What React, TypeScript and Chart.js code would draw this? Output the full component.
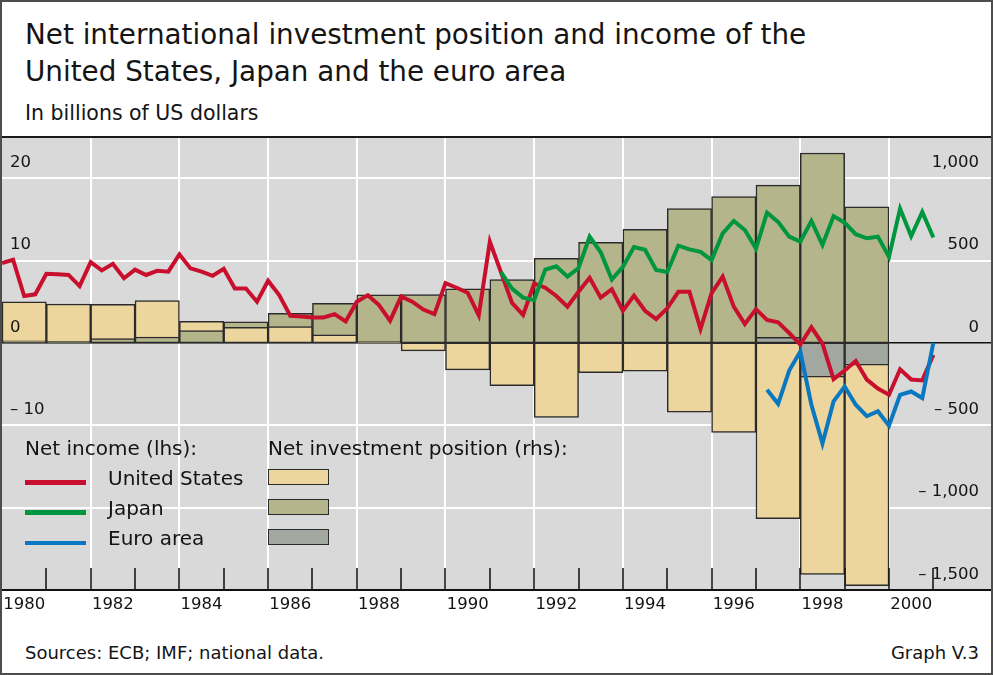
import React, { useEffect, useRef } from "react";
import { Chart, registerables } from "chart.js";

Chart.register(...registerables);

const FONT = '"DejaVu Sans", "Liberation Sans", sans-serif';

// ---- Net investment position (rhs, USD bn), annual, 1980–1999 ----
const positionYears = [1980, 1981, 1982, 1983, 1984, 1985, 1986, 1987, 1988, 1989, 1990, 1991, 1992, 1993, 1994, 1995, 1996, 1997, 1998, 1999];
const usPosition = [250, 236, 234, 257, 131, 95, 99, 49, 10, -48, -164, -260, -453, -180, -172, -420, -543, -1067, -1406, -1473];
const japanPosition = [12, 10, 26, 36, 75, 128, 180, 240, 292, 293, 329, 384, 513, 610, 689, 815, 889, 958, 1153, 826];
const euroPosition = [null, null, null, null, null, null, null, null, null, null, null, null, null, null, null, null, null, 34, -208, -135];

// ---- Net income (lhs, USD bn), quarterly ----
const usIncomeStart = 1980.0;
const usIncome = [
  9.7, 10.1, 5.7, 5.9, 8.4, 8.35, 8.25, 6.9, 9.8, 8.8, 9.6, 7.85, 8.9, 8.25, 8.75, 8.65,
  10.75, 9.05, 8.65, 8.15, 9.0, 6.6, 6.6, 5.0, 7.55, 5.8, 3.3, 3.2, 3.1, 3.1, 3.5, 2.6,
  5.0, 5.8, 4.6, 2.7, 5.65, 5.0, 4.05, 3.5, 7.25, 6.7, 6.1, 3.35, 12.3, 8.6, 4.85, 3.4,
  7.2, 6.7, 5.7, 4.4, 6.2, 7.9, 5.5, 6.5, 3.9, 5.75, 3.9, 2.9, 4.2, 6.2, 6.2, 1.7,
  6.05, 8.05, 4.4, 2.3, 4.1, 2.8, 2.5, 1.2, -0.2, 1.9, -0.1, -4.4, -3.35, -2.2, -4.45, -5.55,
  -6.3, -3.2, -4.45, -4.55, -1.45,
];
const japanIncomeStart = 1991.25;
const japanIncome = [
  8.6, 6.6, 5.5, 5.2, 8.9, 9.3, 8.05, 9.1, 12.9, 11.0, 7.7, 9.25, 11.65, 11.3, 8.85, 8.6,
  11.8, 11.35, 11.05, 10.05, 13.3, 14.8, 13.7, 11.45, 15.8, 14.7, 12.9, 12.3, 14.8, 11.9,
  15.4, 14.6, 13.2, 12.7, 12.9, 10.45, 16.3, 12.95, 15.9, 12.8,
];
const euroIncomeStart = 1997.25;
const euroIncome = [-5.7, -7.4, -3.35, -1.05, -7.5, -12.2, -7.1, -5.3, -7.5, -8.9, -8.3, -10.05, -6.3, -5.9, -6.7, 0.0];

// ---- Axes ----
const xLabelYears = [1980, 1982, 1984, 1986, 1988, 1990, 1992, 1994, 1996, 1998, 2000];
const xLabels = ["1980", "1982", "1984", "1986", "1988", "1990", "1992", "1994", "1996", "1998", "2000"];
const gridYears = [1982, 1984, 1986, 1988, 1990, 1992, 1994, 1996, 1998, 2000];
const yearTickMarks = [1981, 1982, 1983, 1984, 1985, 1986, 1987, 1988, 1989, 1990, 1991, 1992, 1993, 1994, 1995, 1996, 1997, 1998, 1999, 2000, 2001];
const leftGridValues = [-30, -20, -10, 0, 10, 20];
const leftTickValues = [20, 10, 0, -10];
const leftTickLabels = ["20", "10", "0", "\u2013 10"];
const rightTickValues = [1000, 500, 0, -500, -1000, -1500];
const rightTickLabels = ["1,000", "500", "0", "\u2013 500", "\u2013 1,000", "\u2013 1,500"];

const COLORS = {
  bg: "#d9d9d9",
  us: "#c8102e",
  japan: "#00963f",
  euro: "#0a78c0",
  usBar: "#edd59e",
  japanBar: "#b4b58a",
  euroBar: "#a2a89f",
  barBorder: "#2b2b2b",
};

const quarterly = (start: number, values: number[]) =>
  values.map((v, i) => ({ x: start + i * 0.25, y: v }));

function buildBarLayers() {
  const series = [
    { values: usPosition, color: COLORS.usBar },
    { values: japanPosition, color: COLORS.japanBar },
    { values: euroPosition, color: COLORS.euroBar },
  ];
  const layers = [0, 1, 2].map(() => ({ data: [] as any[], colors: [] as string[] }));
  positionYears.forEach((yr, i) => {
    const entries = series
      .filter((s) => s.values[i] !== null && s.values[i] !== undefined)
      .map((s) => ({ v: s.values[i] as number, c: s.color }))
      .sort((a, b) => Math.abs(b.v) - Math.abs(a.v));
    for (let k = 0; k < 3; k++) {
      const e = entries[k];
      layers[k].data.push({ x: yr + 0.5, y: e ? e.v : null });
      layers[k].colors.push(e ? e.c : "rgba(0,0,0,0)");
    }
  });
  return layers;
}

const overlayPlugin = {
  id: "overlayMarks",
  beforeDraw(chart: any) {
    const { ctx, chartArea } = chart;
    ctx.save();
    ctx.fillStyle = COLORS.bg;
    ctx.fillRect(chartArea.left, chartArea.top, chartArea.right - chartArea.left, chartArea.bottom - chartArea.top);
    ctx.restore();
  },
  afterDatasetsDraw(chart: any) {
    const { ctx, chartArea, scales } = chart;
    ctx.save();
    ctx.strokeStyle = "#1a1a1a";
    ctx.lineWidth = 1.6;
    yearTickMarks.forEach((yr) => {
      const px = Math.round(scales.x.getPixelForValue(yr));
      ctx.beginPath();
      ctx.moveTo(px, chartArea.bottom);
      ctx.lineTo(px, chartArea.bottom - 22);
      ctx.stroke();
    });
    ctx.restore();
  },
  afterDraw(chart: any) {
    const { ctx, chartArea, scales } = chart;
    ctx.save();
    ctx.fillStyle = "#141414";
    ctx.font = `16.5px ${FONT}`;
    ctx.textBaseline = "middle";
    ctx.textAlign = "left";
    leftTickValues.forEach((v, i) => {
      ctx.fillText(leftTickLabels[i], chartArea.left + 8, scales.yL.getPixelForValue(v) - 15.5);
    });
    ctx.textAlign = "right";
    rightTickValues.forEach((v, i) => {
      ctx.fillText(rightTickLabels[i], chartArea.right - 12, scales.yR.getPixelForValue(v) - 15.5);
    });
    ctx.textAlign = "center";
    xLabelYears.forEach((yr, i) => {
      ctx.fillText(xLabels[i], scales.x.getPixelForValue(yr + 0.5), chartArea.bottom + 14.5);
    });
    ctx.restore();
  },
};

function ChartCanvas() {
  const ref = useRef<HTMLCanvasElement | null>(null);
  useEffect(() => {
    if (!ref.current) return;
    const layers = buildBarLayers();
    const barDatasets = layers.map((layer, k) => ({
      type: "bar" as const,
      label: `position layer ${k}`,
      data: layer.data,
      backgroundColor: layer.colors,
      borderColor: COLORS.barBorder,
      borderWidth: 1.5,
      borderSkipped: false,
      grouped: false,
      barPercentage: 1,
      categoryPercentage: 1,
      xAxisID: "x",
      yAxisID: "yR",
      order: 5 - k,
    }));
    const lineBase = {
      type: "line" as const,
      borderWidth: 4,
      pointRadius: 0,
      tension: 0,
      fill: false,
      xAxisID: "x",
      yAxisID: "yL",
      borderJoinStyle: "miter" as const,
    };
    const chart = new Chart(ref.current, {
      type: "bar",
      data: {
        datasets: [
          ...barDatasets,
          { ...lineBase, label: "United States", data: quarterly(usIncomeStart, usIncome), borderColor: COLORS.us, order: 2 },
          { ...lineBase, label: "Japan", data: quarterly(japanIncomeStart, japanIncome), borderColor: COLORS.japan, order: 1 },
          { ...lineBase, label: "Euro area", data: quarterly(euroIncomeStart, euroIncome), borderColor: COLORS.euro, order: 0 },
        ] as any,
      },
      options: {
        animation: false,
        responsive: true,
        maintainAspectRatio: false,
        devicePixelRatio: 1,
        layout: { padding: { left: 2, right: 2, top: 0, bottom: 40 } },
        plugins: { legend: { display: false }, tooltip: { enabled: false } },
        events: [],
        scales: {
          x: {
            type: "linear",
            position: "bottom",
            offset: false,
            min: 1980,
            max: 2002.3,
            weight: 1,
            afterBuildTicks: (scale: any) => {
              scale.ticks = xLabelYears.map((y) => ({ value: y + 0.5 }));
            },
            ticks: { display: false },
            grid: { display: false, drawTicks: false, offset: false },
            border: { display: true, color: "#111", width: 2 },
          },
          xg: {
            type: "linear",
            position: "bottom",
            offset: false,
            min: 1980,
            max: 2002.3,
            weight: 0,
            afterBuildTicks: (scale: any) => {
              scale.ticks = gridYears.map((y) => ({ value: y }));
            },
            ticks: { display: false },
            grid: { color: "#ffffff", lineWidth: 2, drawTicks: false, offset: false },
            border: { display: false },
          },
          yL: {
            type: "linear",
            position: "left",
            min: -30,
            max: 25,
            afterBuildTicks: (scale: any) => {
              scale.ticks = leftGridValues.map((v) => ({ value: v }));
            },
            ticks: { display: false },
            grid: {
              drawTicks: false,
              color: (c: any) => (c.tick && c.tick.value === 0 ? "#111" : c.tick && c.tick.value === -30 ? "rgba(0,0,0,0)" : "#ffffff"),
              lineWidth: (c: any) => (c.tick && c.tick.value === 0 ? 1.6 : 2),
            },
            border: { display: false },
          },
          yR: {
            type: "linear",
            position: "right",
            min: -1500,
            max: 1250,
            display: false,
          },
        },
      } as any,
      plugins: [overlayPlugin],
    });
    return () => chart.destroy();
  }, []);
  return <canvas ref={ref} />;
}

const legendText: React.CSSProperties = { position: "absolute", fontSize: 20, lineHeight: "24px", whiteSpace: "nowrap" };

export default function App() {
  return (
    <div
      style={{
        position: "absolute",
        left: 0,
        top: 0,
        width: 993,
        height: 675,
        background: "#ffffff",
        fontFamily: FONT,
        color: "#141414",
        overflow: "hidden",
      }}
    >
      <div style={{ position: "absolute", left: 25, top: 17, fontSize: 27.8, lineHeight: "36.7px", whiteSpace: "nowrap" }}>
        Net international investment position and income of the
        <br />
        United States, Japan and the euro area
      </div>
      <div style={{ position: "absolute", left: 25, top: 101, fontSize: 20.5, lineHeight: "24px", whiteSpace: "nowrap" }}>
        In billions of US dollars
      </div>

      <div style={{ position: "absolute", left: 0, top: 137, width: 993, height: 493 }}>
        <ChartCanvas />
      </div>
      <div style={{ position: "absolute", left: 0, top: 136, width: 993, height: 2, background: "#1a1a1a" }} />

      {/* legend */}
      <div style={{ ...legendText, left: 25, top: 436 }}>Net income (lhs):</div>
      <div style={{ ...legendText, left: 268, top: 436 }}>Net investment position (rhs):</div>
      <div style={{ position: "absolute", left: 25, top: 480, width: 61, height: 4.5, background: COLORS.us }} />
      <div style={{ position: "absolute", left: 25, top: 510, width: 61, height: 4.5, background: COLORS.japan }} />
      <div style={{ position: "absolute", left: 25, top: 540.5, width: 61, height: 4.5, background: COLORS.euro }} />
      <div style={{ ...legendText, left: 108, top: 465.5 }}>United States</div>
      <div style={{ ...legendText, left: 108, top: 496 }}>Japan</div>
      <div style={{ ...legendText, left: 108, top: 526 }}>Euro area</div>
      {[COLORS.usBar, COLORS.japanBar, COLORS.euroBar].map((c, i) => (
        <div
          key={i}
          style={{
            position: "absolute",
            left: 268,
            top: 469 + i * 30,
            width: 61,
            height: 16,
            boxSizing: "border-box",
            background: c,
            border: `1.5px solid ${COLORS.barBorder}`,
          }}
        />
      ))}

      {/* footer */}
      <div style={{ position: "absolute", left: 25, top: 642, fontSize: 18, lineHeight: "22px", whiteSpace: "nowrap" }}>
        Sources: ECB; IMF; national data.
      </div>
      <div style={{ position: "absolute", right: 14, top: 642, fontSize: 18, lineHeight: "22px", whiteSpace: "nowrap" }}>
        Graph V.3
      </div>

      <div
        style={{
          position: "absolute",
          left: 0,
          top: 0,
          width: 993,
          height: 675,
          boxSizing: "border-box",
          border: "2px solid #4d4d4d",
          pointerEvents: "none",
        }}
      />
    </div>
  );
}
